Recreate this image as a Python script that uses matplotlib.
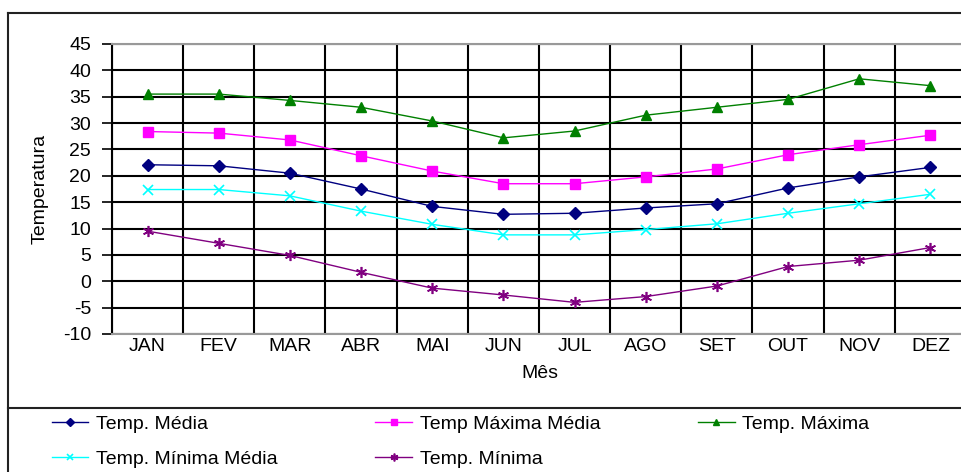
import numpy as np
import matplotlib
matplotlib.use("Agg")
import matplotlib.pyplot as plt
from matplotlib.lines import Line2D

plt.rcParams['font.family'] = ['Liberation Sans', 'DejaVu Sans']
plt.rcParams['axes.unicode_minus'] = False

meses = ["JAN", "FEV", "MAR", "ABR", "MAI", "JUN", "JUL", "AGO", "SET", "OUT", "NOV", "DEZ"]

temp_media = [22.1, 21.9, 20.5, 17.5, 14.2, 12.7, 12.9, 13.9, 14.7, 17.7, 19.8, 21.6]
temp_max_media = [28.4, 28.1, 26.8, 23.8, 20.9, 18.5, 18.5, 19.8, 21.3, 24.0, 25.9, 27.7]
temp_max = [35.5, 35.5, 34.3, 33.0, 30.4, 27.2, 28.5, 31.5, 33.0, 34.5, 38.4, 37.1]
temp_min_media = [17.4, 17.4, 16.2, 13.3, 10.8, 8.8, 8.8, 9.8, 10.9, 12.9, 14.7, 16.5]
temp_min = [9.5, 7.2, 4.9, 1.7, -1.3, -2.6, -4.0, -2.9, -0.9, 2.8, 4.0, 6.4]

fig = plt.figure(figsize=(9.62, 4.72), dpi=100)
ax = fig.add_axes([112/962, 1-334/472, (966-112)/962, (334-44)/472])

x = np.arange(len(meses))
l1, = ax.plot(x, temp_media, color="#000080", lw=1, marker="D", ms=6, label="Temp. Média")
l2, = ax.plot(x, temp_max_media, color="#ff00ff", lw=1, marker="s", ms=7, label="Temp Máxima Média")
l3, = ax.plot(x, temp_max, color="#008000", lw=1, marker="^", ms=7, label="Temp. Máxima")
l4, = ax.plot(x, temp_min_media, color="#00ffff", lw=1, marker="x", ms=7, mew=1.2, label="Temp. Mínima Média")
l5, = ax.plot(x, temp_min, color="#800080", lw=1, marker=(6, 2, 0), ms=8, mew=1.2, label="Temp. Mínima")

ax.set_xlim(-0.5, 11.5)
ax.set_ylim(-10, 45)
ax.set_yticks(np.arange(-10, 50, 5))
ax.set_xticks(x)
ax.set_xticklabels(meses)
ax.set_xticks(np.arange(-0.5, 12, 1), minor=True)
ax.grid(True, which="major", axis="y", color="black", lw=1.5)
ax.grid(True, which="minor", axis="x", color="black", lw=1.5)
ax.set_axisbelow(True)
ax.tick_params(axis="x", which="both", length=0, labelsize=14, pad=3)
ax.tick_params(axis="y", length=7, width=1.2, labelsize=14, pad=8, direction="out")

for s in ["top", "bottom"]:
    ax.spines[s].set_color("#999999")
    ax.spines[s].set_linewidth(1.5)
ax.spines["left"].set_color("black")
ax.spines["left"].set_linewidth(1.5)
ax.spines["right"].set_visible(False)

fig.text(40/962, 1-189/472, "Temperatura", rotation=90, fontsize=14, ha="center", va="center")
fig.text(540/962, 1-374/472, "Mês", fontsize=14, ha="center", va="center")

# moldura e separador
fig.add_artist(Line2D([8/962, 8/962], [0, 1-13/472], color="#222222", lw=1.5))
fig.add_artist(Line2D([8/962, 1], [1-13/472, 1-13/472], color="#222222", lw=1.5))
fig.add_artist(Line2D([8/962, 1], [1-408/472, 1-408/472], color="#222222", lw=1.5))

# legenda em ordem de linha (ncol=3 preenche por coluna)
handles = [l1, l4, l2, l5, l3]
fig.legend(handles=handles, labels=[h.get_label() for h in handles], ncol=3,
           loc="upper left", bbox_to_anchor=(34/962, 1-398/472), frameon=False,
           fontsize=14, handlelength=1.9, handletextpad=0.4, columnspacing=5.0,
           labelspacing=0.9, markerscale=0.7)

fig.savefig("out.png", dpi=100)
